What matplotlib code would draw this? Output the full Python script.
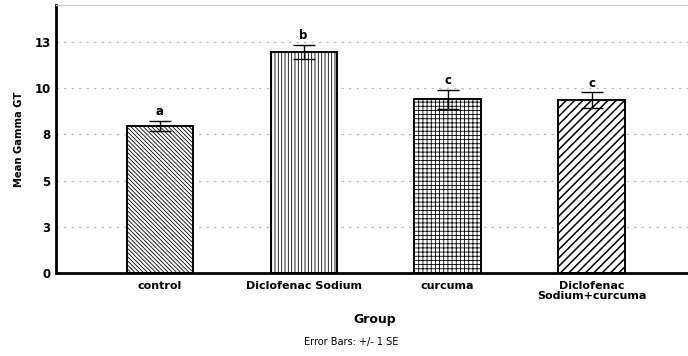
import numpy as np
import matplotlib.pyplot as plt

groups = ["control", "Diclofenac Sodium", "curcuma", "Diclofenac\nSodium+curcuma"]
means = [7.95, 11.97, 9.40, 9.36]
se = [0.27, 0.37, 0.50, 0.41]
letters = ["a", "b", "c", "c"]
hatches = ["\\" * 8, "|||||", "++++", "////"]
hatch_widths = [0.6, 0.6, 0.6, 1.1]

ytick_vals = [0, 2.5, 5, 7.5, 10, 12.5]
ytick_labels = ["0", "3", "5", "8", "10", "13"]

plt.rcParams['font.family'] = ['DejaVu Sans']

fig = plt.figure(figsize=(6.88, 3.56), dpi=100)
ax = fig.add_axes([56/688, 83/356, 1 - 56/688, 268/356])

x = np.arange(len(groups))
for i in range(len(groups)):
    with plt.rc_context({'hatch.linewidth': hatch_widths[i]}):
        ax.bar(x[i], means[i], width=0.46, color='white', edgecolor='black',
               hatch=hatches[i], linewidth=1.4, zorder=3)
ax.errorbar(x, means, yerr=se, fmt='none', ecolor='black', elinewidth=1,
            capsize=8, capthick=1, zorder=4)
for i in range(len(groups)):
    ax.annotate(letters[i], (x[i], means[i] + se[i]), xytext=(0, 2),
                textcoords='offset points', ha='center', va='bottom',
                fontsize=8.5, fontweight='bold')

ax.set_xlim(-0.72, 3.67)
ax.set_ylim(0, 14.5)
ax.set_yticks(ytick_vals)
ax.set_yticklabels(ytick_labels, fontsize=8.5, fontweight='bold')
ax.set_xticks(x)
ax.set_xticklabels(groups, fontsize=8, fontweight='bold', linespacing=1.0)
ax.tick_params(axis='x', length=0, pad=6)
ax.tick_params(axis='y', length=0, pad=4)
ax.yaxis.grid(True, linestyle=(0, (2, 4)), color='#bbbbbb', linewidth=0.9)
ax.set_axisbelow(True)

ax.spines['left'].set_linewidth(2)
ax.spines['bottom'].set_linewidth(2)
ax.spines['right'].set_visible(False)
ax.spines['top'].set_color('#cccccc')
ax.spines['top'].set_linewidth(1)

ax.set_ylabel("Mean Gamma GT", fontsize=7.2, fontweight='bold')
ax.yaxis.set_label_coords(-0.05, 0.5)
fig.text(375/688, 1 - 320/356, "Group", ha='center', va='center',
         fontsize=9, fontweight='bold')
fig.text(351/688, 1 - 342/356, "Error Bars: +/- 1 SE", ha='center',
         va='center', fontsize=7)

fig.savefig("out.png", dpi=100)
